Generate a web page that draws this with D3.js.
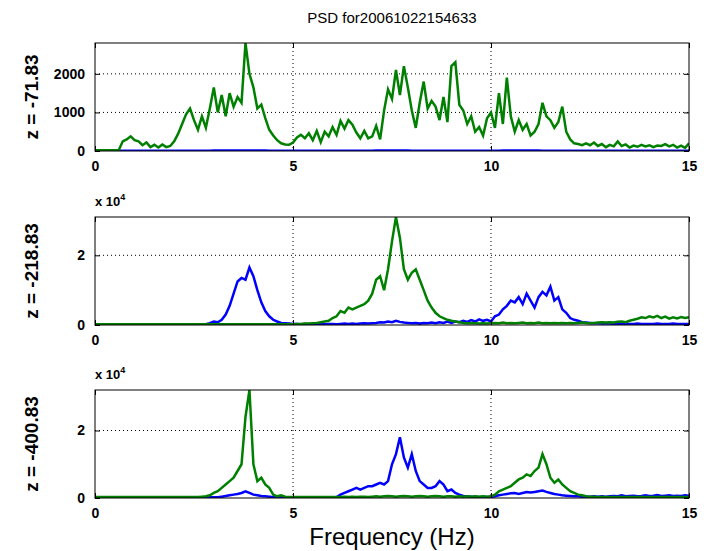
<!DOCTYPE html>
<html lang="en">
<head>
<meta charset="utf-8">
<title>PSD</title>
<script src="https://d3js.org/d3.v7.min.js"></script>
<style type="text/css">
  body { margin: 0; background: #fff; }
  svg { width: 708px; height: 551px; display: block; }
  .tick text { font-family: "Liberation Sans", Arial, sans-serif; font-size: 14px; font-weight: bold; fill: #000; }
  .title { font-family: "Liberation Sans", Arial, sans-serif; font-size: 15px; }
  .ylab { font-family: "Liberation Sans", Arial, sans-serif; font-size: 19px; font-weight: bold; }
  .xlab { font-family: "Liberation Sans", Arial, sans-serif; font-size: 24px; }
  .expo { font-family: "Liberation Sans", Arial, sans-serif; font-size: 13px; font-weight: bold; }
</style>
</head>
<body>
<svg></svg>
<script type="text/javascript">

// frequency grid, 0.1 Hz steps from 0 to 15
const freqs = d3.range(151).map(i => i / 10);

// panel 1 (raw units)
const p1Green = [20,20,20,20,20,20,20,
  250,300,380,280,250,150,220,100,160,90,170,100,130,
  250,450,700,950,1100,800,550,900,600,1100,
  1650,1000,1450,900,1500,1150,1400,1250,2800,2000,
  1650,1100,1200,850,550,400,280,200,170,160,
  220,350,420,330,460,280,520,230,500,380,
  620,420,780,580,800,680,480,330,520,330,
  380,650,300,1050,1600,1350,2100,1450,2200,1650,
  1050,600,1250,1800,1100,1300,1150,800,1400,750,
  2200,2300,1200,1050,700,900,500,620,400,850,
  1000,600,1500,700,1900,900,500,800,550,700,
  400,500,700,1250,900,800,600,750,1150,500,
  300,200,180,150,200,150,220,130,180,100,
  160,120,250,130,170,90,140,110,160,120,
  150,100,140,130,180,120,160,90,140,80,200];
const p1Blue = [5,5,5,5,5,5,5,5,5,5, 5,5,5,5,5,5,5,5,5,5,
  5,5,6,6,7,7,8,8,9,9, 10,10,11,11,12,12,13,14,15,14,
  13,12,11,10,9,8,7,7,6,6, 6,6,6,6,6,6,6,6,6,6,
  6,6,6,7,7,7,8,8,8,9, 9,10,10,11,12,12,13,12,11,10,
  9,9,8,8,8,8,8,8,8,8, 8,8,8,8,8,8,8,8,8,8,
  8,9,9,10,10,11,11,12,12,11, 11,10,10,9,9,8,8,7,7,6,
  6,6,6,5,5,5,5,5,5,5, 5,5,5,5,5,5,5,5,5,5,
  5,5,5,5,5,5,5,5,5,5,5];

// panel 2 (x 10^4)
const p2Blue = [0.02,0.02,0.02,0.02,0.02,0.02,0.02,0.02,0.02,0.02,
  0.02,0.02,0.02,0.02,0.02,0.02,0.02,0.02,0.02,0.02,
  0.02,0.02,0.02,0.02,0.02,0.02,0.02,0.02,0.02,0.05,
  0.10,0.08,0.15,0.30,0.55,0.90,1.25,1.35,1.30,1.65,
  1.40,1.00,0.65,0.40,0.25,0.15,0.10,0.06,0.05,0.04,
  0.03,0.03,0.02,0.03,0.02,0.03,0.02,0.03,0.02,0.03,
  0.03,0.02,0.03,0.04,0.03,0.04,0.03,0.04,0.05,0.04,
  0.05,0.06,0.08,0.07,0.10,0.08,0.12,0.09,0.07,0.06,
  0.05,0.06,0.04,0.06,0.05,0.07,0.05,0.08,0.06,0.10,
  0.06,0.10,0.08,0.12,0.09,0.14,0.10,0.16,0.12,0.15,
  0.10,0.25,0.30,0.45,0.55,0.70,0.65,0.80,0.60,0.90,
  0.70,0.50,0.80,0.95,0.85,1.10,0.70,0.80,0.45,0.35,
  0.20,0.15,0.12,0.08,0.07,0.06,0.05,0.05,0.04,0.04,
  0.04,0.03,0.03,0.03,0.04,0.03,0.03,0.04,0.03,0.03,
  0.03,0.03,0.04,0.03,0.03,0.03,0.04,0.03,0.03,0.03,0.03];
const p2Green = [0.02,0.02,0.02,0.02,0.02,0.02,0.02,0.02,0.02,0.02,
  0.02,0.02,0.02,0.02,0.02,0.02,0.02,0.02,0.02,0.02,
  0.02,0.02,0.02,0.02,0.02,0.02,0.02,0.02,0.02,0.02,
  0.02,0.02,0.02,0.02,0.02,0.02,0.02,0.02,0.02,0.02,
  0.02,0.02,0.02,0.02,0.02,0.02,0.02,0.02,0.02,0.02,
  0.02,0.03,0.03,0.04,0.04,0.05,0.06,0.08,0.10,0.12,
  0.20,0.25,0.40,0.35,0.50,0.45,0.50,0.55,0.60,0.70,
  0.90,1.30,1.40,1.00,1.60,2.40,3.10,2.50,1.60,1.30,
  1.50,1.60,1.30,1.00,0.70,0.50,0.35,0.25,0.20,0.15,
  0.12,0.10,0.08,0.06,0.05,0.06,0.05,0.04,0.05,0.04,
  0.05,0.06,0.05,0.07,0.05,0.06,0.05,0.06,0.07,0.05,
  0.06,0.05,0.07,0.05,0.06,0.05,0.06,0.05,0.06,0.05,
  0.06,0.05,0.06,0.07,0.06,0.05,0.06,0.07,0.08,0.07,
  0.08,0.07,0.09,0.10,0.08,0.12,0.15,0.18,0.22,0.20,
  0.25,0.22,0.26,0.20,0.24,0.18,0.22,0.19,0.23,0.20,0.22];

// panel 3 (x 10^4)
const p3Blue = [0.02,0.02,0.02,0.02,0.02,0.02,0.02,0.02,0.02,0.02,
  0.02,0.02,0.02,0.02,0.02,0.02,0.02,0.02,0.02,0.02,
  0.02,0.02,0.02,0.02,0.02,0.02,0.02,0.02,0.02,0.02,
  0.02,0.02,0.04,0.06,0.08,0.10,0.12,0.15,0.20,0.15,
  0.10,0.08,0.06,0.05,0.04,0.03,0.02,0.02,0.02,0.02,
  0.02,0.02,0.02,0.02,0.02,0.02,0.02,0.02,0.02,0.02,
  0.02,0.03,0.10,0.15,0.20,0.25,0.30,0.25,0.30,0.35,
  0.35,0.40,0.45,0.40,0.50,1.00,1.30,1.80,1.20,0.90,
  1.30,0.80,0.50,0.40,0.30,0.30,0.35,0.50,0.40,0.20,
  0.25,0.15,0.10,0.06,0.05,0.04,0.03,0.03,0.03,0.03,
  0.03,0.05,0.08,0.10,0.12,0.14,0.15,0.12,0.15,0.18,
  0.16,0.18,0.20,0.22,0.18,0.15,0.12,0.10,0.08,0.07,
  0.06,0.05,0.05,0.04,0.04,0.04,0.05,0.04,0.05,0.04,
  0.05,0.06,0.05,0.08,0.05,0.06,0.07,0.05,0.06,0.08,
  0.06,0.07,0.09,0.06,0.07,0.08,0.06,0.07,0.06,0.08,0.07];
const p3Green = [0.03,0.03,0.03,0.03,0.03,0.03,0.03,0.03,0.03,0.03,
  0.03,0.03,0.03,0.03,0.03,0.03,0.03,0.03,0.03,0.03,
  0.03,0.03,0.03,0.03,0.03,0.03,0.03,0.04,0.05,0.08,
  0.15,0.20,0.30,0.40,0.50,0.60,0.80,1.00,2.40,3.20,
  1.00,0.50,0.60,0.40,0.30,0.10,0.05,0.08,0.04,0.03,
  0.03,0.03,0.03,0.03,0.03,0.03,0.03,0.03,0.03,0.03,
  0.03,0.03,0.03,0.04,0.03,0.04,0.03,0.04,0.04,0.03,
  0.04,0.05,0.04,0.05,0.06,0.05,0.04,0.05,0.06,0.05,
  0.04,0.05,0.06,0.05,0.04,0.05,0.06,0.05,0.04,0.05,
  0.05,0.04,0.05,0.04,0.05,0.04,0.05,0.04,0.05,0.04,
  0.05,0.10,0.20,0.25,0.30,0.35,0.45,0.55,0.60,0.70,
  0.65,0.80,0.90,1.30,1.00,0.60,0.45,0.55,0.40,0.30,
  0.20,0.15,0.10,0.08,0.05,0.04,0.04,0.03,0.03,0.03,
  0.03,0.03,0.03,0.03,0.03,0.03,0.03,0.03,0.03,0.03,
  0.03,0.03,0.03,0.03,0.03,0.03,0.03,0.03,0.03,0.03,0.03];

const xTicks = [0, 5, 10, 15];
const panelLabels = ["z = -71.83", "z = -218.83", "z = -400.83"];
const titleText = "PSD for20061022154633";

const panels = [
  { top: 43, yMax: 2800, yTicks: [0, 1000, 2000], blue: p1Blue, green: p1Green, expo: false },
  { top: 217, yMax: 3.1, yTicks: [0, 2], blue: p2Blue, green: p2Green, expo: true },
  { top: 390, yMax: 3.2, yTicks: [0, 2], blue: p3Blue, green: p3Green, expo: true }
];

const left = 95, right = 689, ph = 108;
const svg = d3.select("svg");

const x = d3.scaleLinear().domain([0, 15]).range([left, right]);

panels.forEach((p, k) => {
  const y = d3.scaleLinear().domain([0, p.yMax]).range([p.top + ph, p.top]);
  const g = svg.append("g");

  g.append("clipPath").attr("id", "clip" + k)
    .append("rect").attr("x", left).attr("y", p.top).attr("width", right - left).attr("height", ph);

  // grid (dotted)
  g.selectAll(".vg").data([5, 10]).enter().append("line")
    .attr("x1", d => x(d)).attr("x2", d => x(d))
    .attr("y1", p.top).attr("y2", p.top + ph)
    .attr("stroke", "#000").attr("stroke-width", 1).attr("stroke-dasharray", "1,3");
  g.selectAll(".hg").data(p.yTicks.filter(d => d > 0)).enter().append("line")
    .attr("x1", left).attr("x2", right)
    .attr("y1", d => y(d)).attr("y2", d => y(d))
    .attr("stroke", "#000").attr("stroke-width", 1).attr("stroke-dasharray", "1,3");

  // lines
  const line = d3.line().x((d, i) => x(freqs[i])).y(d => y(d));
  g.append("path").attr("d", line(p.blue)).attr("fill", "none")
    .attr("stroke", "#0000ff").attr("stroke-width", 2.5).attr("clip-path", "url(#clip" + k + ")");
  g.append("path").attr("d", line(p.green)).attr("fill", "none")
    .attr("stroke", "#008000").attr("stroke-width", 2.5).attr("clip-path", "url(#clip" + k + ")");

  // axes, ticks inward
  g.append("g").attr("transform", "translate(0," + (p.top + ph) + ")")
    .call(d3.axisBottom(x).tickValues(xTicks).tickSizeInner(-5).tickSizeOuter(0).tickPadding(10).tickFormat(d3.format("d")))
    .call(a => a.select(".domain").remove());
  g.append("g").attr("transform", "translate(0," + p.top + ")")
    .call(d3.axisTop(x).tickValues(xTicks).tickSizeInner(-5).tickSizeOuter(0).tickFormat(""))
    .call(a => a.select(".domain").remove());
  g.append("g").attr("transform", "translate(" + left + ",0)")
    .call(d3.axisLeft(y).tickValues(p.yTicks).tickSizeInner(-5).tickSizeOuter(0).tickPadding(10).tickFormat(d3.format("d")))
    .call(a => a.select(".domain").remove());
  g.append("g").attr("transform", "translate(" + right + ",0)")
    .call(d3.axisRight(y).tickValues(p.yTicks).tickSizeInner(-5).tickSizeOuter(0).tickFormat(""))
    .call(a => a.select(".domain").remove());
  g.selectAll(".tick line").attr("stroke", "#000");

  // box
  g.append("rect").attr("x", left).attr("y", p.top).attr("width", right - left).attr("height", ph)
    .attr("fill", "none").attr("stroke", "#000").attr("stroke-width", 1);

  // y label
  svg.append("text").attr("class", "ylab")
    .attr("transform", "translate(38," + (p.top + ph / 2) + ") rotate(-90)")
    .attr("text-anchor", "middle").text(panelLabels[k]);

  if (p.expo) {
    const t = svg.append("text").attr("class", "expo").attr("x", left).attr("y", p.top - 11);
    t.append("tspan").text("x 10");
    t.append("tspan").attr("dy", -6).attr("font-size", 9).text("4");
  }
});

svg.append("text").attr("class", "title")
  .attr("x", 392).attr("y", 23).attr("text-anchor", "middle").text(titleText);

svg.append("text").attr("class", "xlab")
  .attr("x", 392).attr("y", 545).attr("text-anchor", "middle").text("Frequency (Hz)");

</script>
</body>
</html>
